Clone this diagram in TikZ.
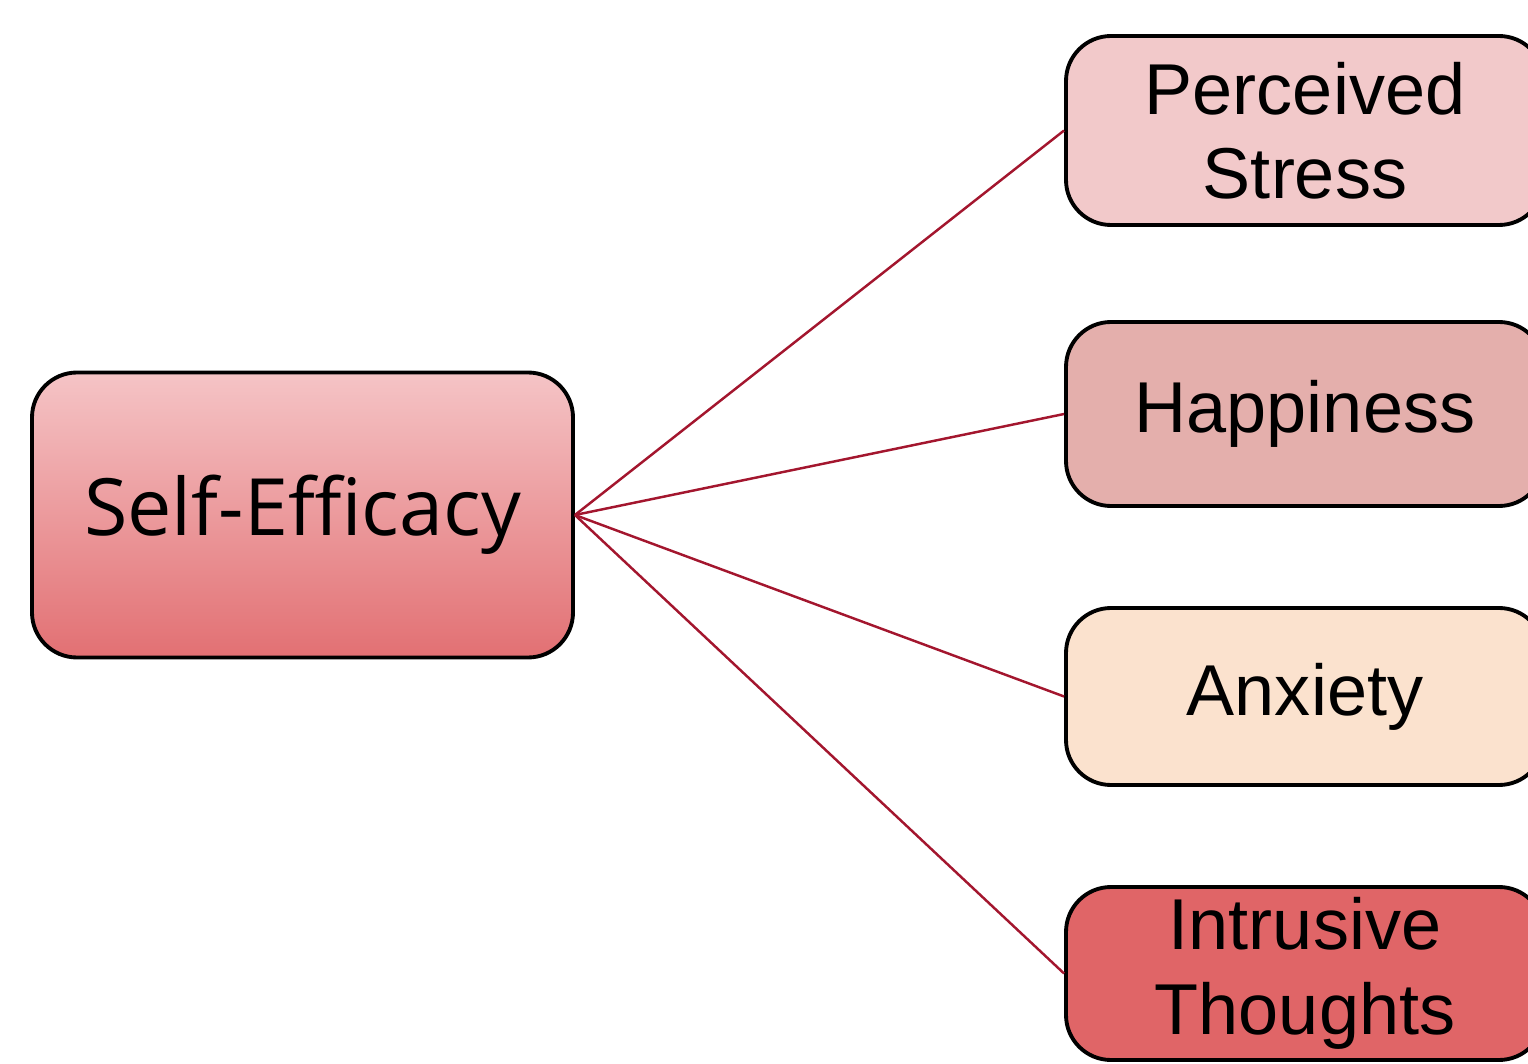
\documentclass[tikz,border=0pt]{standalone}
\usepackage{fontspec}
\setmainfont{Liberation Sans}
\newfontfamily\efficacyfont{Open Sans}
\usetikzlibrary{positioning}
\definecolor{linkred}{HTML}{A3162E}
\definecolor{stressfill}{HTML}{F2C9CA}
\definecolor{happyfill}{HTML}{E4AFAC}
\definecolor{anxietyfill}{HTML}{FBE2CE}
\definecolor{intrusivefill}{HTML}{E06567}
\definecolor{efficacytop}{HTML}{F5C4C6}
\definecolor{efficacybottom}{HTML}{E27073}

\begin{document}
\begin{tikzpicture}[every node/.style={draw,line width=2.2pt,rounded corners=0.9cm,align=center},
  outcome/.style={minimum width=9.56cm,font=\fontsize{41}{48}\selectfont,inner sep=0pt},
  link/.style={draw=linkred,line width=1.4pt}]
\useasboundingbox (0,0) rectangle (30.56,21.26);
\node [minimum width=10.82cm,minimum height=5.70cm,top color=efficacytop,bottom color=efficacybottom,
  font=\efficacyfont\fontsize{45}{52}\selectfont] (SelfEfficacy) at (6.05,10.96) {Self-Efficacy};
\node [outcome,fill=stressfill,minimum height=3.78cm] (PerceivedStress) at (26.1,18.65) {Perceived\\Stress};
\node [outcome,fill=happyfill,minimum height=3.68cm] (Happiness) at (26.1,12.98) {Happiness};
\node [outcome,fill=anxietyfill,minimum height=3.54cm] (Anxiety) at (26.1,7.33) {Anxiety};
\node [outcome,fill=intrusivefill,minimum height=3.46cm] (IntrusiveThoughts) at (26.1,1.79) {Intrusive\\Thoughts};
\draw [link] (SelfEfficacy.east) -- (PerceivedStress.west);
\draw [link] (SelfEfficacy.east) -- (Happiness.west);
\draw [link] (SelfEfficacy.east) -- (Anxiety.west);
\draw [link] (SelfEfficacy.east) -- (IntrusiveThoughts.west);
\end{tikzpicture}
\end{document}
